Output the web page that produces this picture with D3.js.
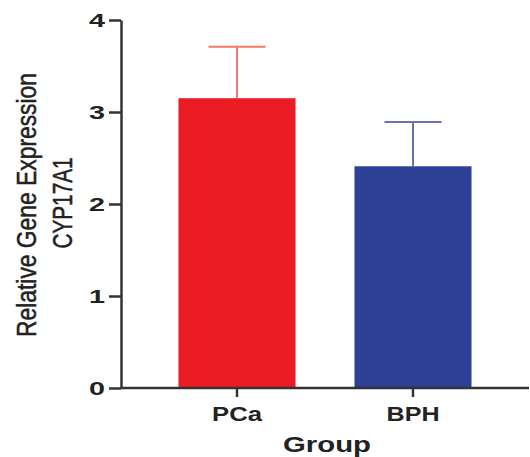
<!DOCTYPE html>
<html>
<head>
<meta charset="utf-8">
<script src="https://cdn.jsdelivr.net/npm/d3@7"></script>
<style>
  body { margin: 0; background: #fff; }
  text { font-family: "Liberation Sans", Arial, sans-serif; }
</style>
</head>
<body>
<div id="chart"></div>
<script>
// data
const groups = ['PCa', 'BPH'];
const means = [3.15, 2.41];
const errors = [0.56, 0.48];
const yTicks = [0, 1, 2, 3, 4];

const barColors = ['#ec1c24', '#2e3f96'];
const errColors = ['#f07a6a', '#6b6fb8'];

const svg = d3.select('#chart')
    .append('svg')
    .attr('width', 530)
    .attr('height', 457);

const y = d3.scaleLinear()
    .domain([0, 4])
    .range([388, 20]);

const x = d3.scaleBand()
    .domain(groups)
    .range([149, 501])
    .paddingInner(0.335)
    .paddingOuter(0.1675);

const data = groups.map((g, i) => ({ group: g, mean: means[i], err: errors[i], i: i }));

// bars
svg.selectAll('.bar')
    .data(data)
    .enter().append('rect')
    .attr('class', 'bar')
    .attr('x', d => x(d.group))
    .attr('y', d => y(d.mean))
    .attr('width', x.bandwidth())
    .attr('height', d => y(0) - y(d.mean))
    .attr('fill', d => barColors[d.i]);

// error bars (upper only)
const capW = 57;
const eb = svg.selectAll('.err')
    .data(data)
    .enter().append('g')
    .attr('class', 'err')
    .attr('stroke', d => errColors[d.i])
    .attr('stroke-width', 2);

eb.append('line')
    .attr('x1', d => x(d.group) + x.bandwidth() / 2)
    .attr('x2', d => x(d.group) + x.bandwidth() / 2)
    .attr('y1', d => y(d.mean))
    .attr('y2', d => y(d.mean + d.err));

eb.append('line')
    .attr('x1', d => x(d.group) + x.bandwidth() / 2 - capW / 2)
    .attr('x2', d => x(d.group) + x.bandwidth() / 2 + capW / 2)
    .attr('y1', d => y(d.mean + d.err))
    .attr('y2', d => y(d.mean + d.err));

// y axis
const yAxis = svg.append('g')
    .attr('transform', 'translate(121,0)')
    .call(d3.axisLeft(y).tickValues(yTicks).tickFormat(d3.format('d'))
        .tickSize(12).tickSizeOuter(0).tickPadding(4));

yAxis.select('.domain').attr('stroke', '#333').attr('stroke-width', 2.5);
yAxis.selectAll('.tick line').attr('stroke', '#333').attr('stroke-width', 2.5);
yAxis.selectAll('.tick text')
    .attr('fill', '#222')
    .style('font-size', '18px')
    .style('font-weight', 'bold')
    .attr('dy', '0.36em')
    .attr('textLength', 16)
    .attr('lengthAdjust', 'spacingAndGlyphs');

// x axis
const xAxis = svg.append('g')
    .attr('transform', 'translate(0,388)')
    .call(d3.axisBottom(x).tickSize(9).tickSizeOuter(0).tickPadding(9));

xAxis.select('.domain').remove();
xAxis.append('line')
    .attr('x1', 121)
    .attr('x2', 529)
    .attr('stroke', '#333')
    .attr('stroke-width', 2.5);
xAxis.selectAll('.tick line').attr('stroke', '#333').attr('stroke-width', 2.5);
xAxis.selectAll('.tick text')
    .attr('fill', '#222')
    .style('font-size', '21px')
    .style('font-weight', 'bold')
    .attr('textLength', d => d === 'PCa' ? 50 : 53)
    .attr('lengthAdjust', 'spacingAndGlyphs');

// axis titles
svg.append('text')
    .attr('x', 327)
    .attr('y', 452)
    .attr('text-anchor', 'middle')
    .attr('fill', '#222')
    .style('font-size', '22px')
    .style('font-weight', 'bold')
    .attr('textLength', 88)
    .attr('lengthAdjust', 'spacingAndGlyphs')
    .text('Group');

const yTitle = ['Relative Gene Expression', 'CYP17A1'];
const yTitleLen = [264, 91];
svg.selectAll('.ytitle')
    .data(yTitle)
    .enter().append('text')
    .attr('class', 'ytitle')
    .attr('transform', (d, i) => 'translate(' + (36 + i * 36) + ',' + (205 - i * 2) + ') rotate(-90)')
    .attr('text-anchor', 'middle')
    .attr('fill', '#222')
    .attr('stroke', '#222')
    .attr('stroke-width', 0.5)
    .style('font-size', '27px')
    .attr('textLength', (d, i) => yTitleLen[i])
    .attr('lengthAdjust', 'spacingAndGlyphs')
    .text(d => d);
</script>
</body>
</html>
